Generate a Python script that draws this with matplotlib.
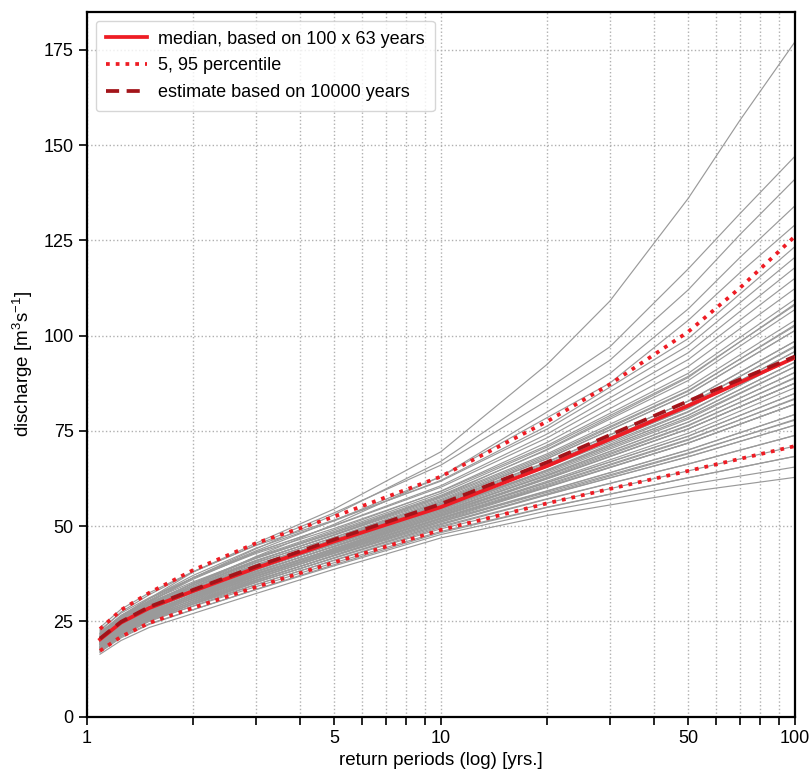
import numpy as np
import matplotlib
matplotlib.use("Agg")
import matplotlib.pyplot as plt
from matplotlib.ticker import FixedLocator, FixedFormatter, NullLocator

plt.rcParams['font.family'] = ['Liberation Sans', 'DejaVu Sans']
plt.rcParams['mathtext.default'] = 'regular'

T = [1.09, 1.25, 1.5, 2, 3, 5, 10, 20, 50, 100]
# finer grid for the steep upper curves
T_fine = [1.09, 1.25, 1.5, 2, 3, 5, 10, 20, 30, 50, 70, 100]

# 5, 95 percentile, median (100 x 63 yrs) and estimate (10000 yrs)
p05 = [17.3, 21.0, 24.6, 28.6, 34.0, 40.5, 49.0, 56.0, 64.5, 71.0]
p95 = [23.0, 28.0, 32.5, 38.5, 45.5, 52.5, 63.0, 77.5, 87.2, 101.0, 112.5, 126.0]
median = [20.3, 24.7, 28.5, 33.0, 39.0, 46.0, 55.0, 65.8, 81.6, 94.2]
estimate = [20.5, 24.9, 28.8, 33.3, 39.4, 46.5, 55.8, 66.8, 82.8, 94.5]

# steepest individual curves (on T_fine)
top_samples = [
    [21.5, 26.0, 31.0, 38.0, 45.5, 54.5, 69.5, 92.5, 109.0, 136.0, 156.5, 177.0],
    [20.0, 25.0, 30.0, 36.5, 44.0, 53.0, 67.0, 86.0, 97.0, 117.5, 132.0, 147.0],
    [22.5, 27.5, 32.0, 38.0, 45.0, 53.5, 66.0, 83.0, 93.5, 112.0, 126.5, 141.0],
    [19.5, 24.0, 28.5, 34.5, 42.0, 50.5, 63.0, 80.0, 90.0, 107.0, 120.5, 134.0],
    [21.0, 26.0, 30.5, 36.5, 43.5, 51.5, 63.0, 78.5, 87.5, 104.0, 116.5, 129.0],
]

# remaining individual curves (on T)
samples = [
    [21.2, 26.4, 31.0, 37.1, 44.2, 51.4, 62.0, 76.3, 99.2, 123.3],
    [23.4, 28.2, 32.5, 38.1, 44.9, 51.6, 61.8, 75.5, 97.4, 120.5],
    [20.6, 25.7, 30.2, 36.1, 43.1, 50.2, 60.6, 74.2, 95.5, 117.8],
    [21.9, 26.6, 30.9, 36.5, 43.2, 50.1, 60.2, 73.2, 93.7, 115.0],
    [20.1, 25.0, 29.4, 35.1, 41.9, 49.0, 59.2, 72.0, 91.9, 112.3],
    [22.8, 27.2, 31.2, 36.4, 42.8, 49.4, 59.1, 71.2, 90.1, 109.5],
    [20.5, 25.2, 29.5, 35.0, 41.7, 48.6, 58.6, 70.8, 89.3, 108.0],
    [21.0, 25.6, 29.7, 35.0, 41.5, 48.3, 58.1, 70.0, 88.2, 106.8],
    [19.5, 24.3, 28.6, 34.1, 40.8, 47.8, 57.8, 70.2, 89.0, 108.3],
    [22.2, 26.5, 30.4, 35.4, 41.6, 48.2, 57.7, 69.0, 86.4, 104.0],
    [20.7, 25.2, 29.3, 34.5, 40.9, 47.7, 57.4, 68.6, 85.6, 102.5],
    [18.9, 23.6, 27.8, 33.1, 39.6, 46.6, 56.4, 67.7, 84.6, 101.3],
    [21.9, 26.2, 30.0, 34.9, 41.0, 47.6, 57.0, 68.2, 85.4, 102.8],
    [20.4, 24.9, 28.9, 34.0, 40.3, 47.1, 56.7, 67.8, 84.6, 101.3],
    [20.2, 24.5, 28.6, 33.6, 39.8, 46.5, 56.0, 66.8, 82.8, 98.5],
    [19.4, 23.8, 28.0, 33.1, 39.4, 46.2, 55.8, 66.4, 82.0, 97.0],
    [21.7, 25.8, 29.7, 34.5, 40.5, 47.0, 56.3, 66.9, 82.8, 98.5],
    [19.9, 24.2, 28.2, 33.1, 39.2, 45.9, 55.3, 65.7, 80.9, 95.8],
    [18.4, 22.9, 27.1, 32.2, 38.5, 45.4, 55.0, 65.6, 80.9, 95.8],
    [20.7, 24.9, 28.8, 33.6, 39.6, 46.2, 55.5, 66.1, 81.7, 97.3],
    [21.4, 25.5, 29.3, 34.0, 39.9, 46.4, 55.6, 65.5, 80.1, 94.3],
    [19.6, 23.8, 27.8, 32.6, 38.6, 45.3, 54.6, 64.6, 79.1, 93.0],
    [18.1, 22.5, 26.7, 31.7, 37.9, 44.8, 54.3, 64.8, 79.9, 94.5],
    [21.1, 25.1, 28.9, 33.5, 39.3, 45.8, 54.9, 64.7, 79.1, 93.0],
    [19.9, 24.1, 28.0, 32.8, 38.7, 45.3, 54.5, 64.3, 78.5, 91.8],
    [19.3, 23.5, 27.4, 32.1, 38.0, 44.7, 53.9, 63.5, 77.3, 90.3],
    [20.8, 24.8, 28.5, 33.0, 38.7, 45.2, 54.2, 63.9, 78.1, 91.8],
    [17.8, 22.2, 26.3, 31.2, 37.3, 44.2, 53.6, 63.4, 77.3, 90.3],
    [19.3, 23.5, 27.4, 32.1, 38.0, 44.7, 53.9, 63.2, 76.5, 88.8],
    [19.0, 23.1, 27.0, 31.6, 37.5, 44.1, 53.2, 62.5, 75.5, 87.5],
    [17.5, 21.8, 25.9, 30.7, 36.8, 43.6, 52.9, 62.4, 75.5, 87.5],
    [20.5, 24.4, 28.1, 32.5, 38.2, 44.6, 53.5, 62.6, 75.5, 87.5],
    [19.0, 23.1, 27.0, 31.6, 37.5, 44.1, 53.2, 62.8, 76.3, 89.0],
    [18.7, 22.8, 26.6, 31.1, 36.9, 43.5, 52.5, 61.4, 73.6, 84.8],
    [20.2, 24.1, 27.7, 32.0, 37.6, 44.0, 52.8, 61.5, 73.6, 84.8],
    [17.2, 21.5, 25.5, 30.2, 36.2, 43.0, 52.2, 61.0, 72.8, 83.3],
    [19.5, 23.5, 27.2, 31.6, 37.3, 43.8, 52.7, 61.8, 74.4, 86.3],
    [18.4, 22.4, 26.2, 30.6, 36.3, 42.9, 51.8, 60.3, 71.8, 82.0],
    [19.9, 23.7, 27.3, 31.5, 37.0, 43.4, 52.1, 60.4, 71.8, 82.0],
    [16.9, 21.1, 25.1, 29.7, 35.6, 42.4, 51.5, 60.2, 71.8, 82.0],
    [19.2, 23.1, 26.8, 31.1, 36.7, 43.2, 52.0, 60.7, 72.6, 83.5],
    [18.2, 22.1, 25.8, 30.1, 35.7, 42.3, 51.1, 59.2, 70.0, 79.3],
    [19.7, 23.4, 26.9, 31.0, 36.4, 42.8, 51.4, 59.3, 70.0, 79.3],
    [18.2, 22.1, 25.8, 30.1, 35.7, 42.3, 51.1, 58.9, 69.2, 77.8],
    [17.9, 21.7, 25.4, 29.6, 35.2, 41.7, 50.4, 58.2, 68.2, 76.5],
    [19.4, 23.0, 26.5, 30.5, 35.9, 42.2, 50.7, 58.3, 68.2, 76.5],
    [17.9, 21.7, 25.4, 29.6, 35.2, 41.7, 50.4, 58.5, 69.0, 78.0],
    [17.6, 21.4, 25.0, 29.1, 34.6, 41.1, 49.7, 57.1, 66.3, 73.8],
    [19.1, 22.7, 26.1, 30.0, 35.3, 41.6, 50.0, 57.2, 66.3, 73.8],
    [18.8, 22.3, 25.7, 29.5, 34.7, 41.0, 49.3, 56.1, 64.5, 71.0],
    [18.5, 22.0, 25.3, 29.0, 34.1, 40.4, 48.6, 55.0, 62.7, 68.3],
    [17.0, 20.7, 24.2, 28.1, 33.4, 39.9, 48.3, 54.9, 62.7, 68.3],
    [17.5, 21.0, 24.4, 28.1, 33.3, 39.6, 47.8, 54.0, 60.9, 65.5],
    [16.4, 20.0, 23.4, 27.1, 32.3, 38.7, 46.9, 52.8, 59.0, 62.8],
]

x_ticks = [1, 2, 3, 4, 5, 6, 7, 8, 9, 10, 20, 30, 40, 50, 60, 70, 80, 90, 100]
x_labels = ['1', '', '', '', '5', '', '', '', '', '10', '', '', '', '50', '', '', '', '', '100']
y_ticks = [0, 25, 50, 75, 100, 125, 150, 175]

fig = plt.figure(figsize=(8.11, 7.74), dpi=100)
ax = fig.add_axes([0.107, 0.074, 0.873, 0.911])

for s in top_samples:
    ax.plot(T_fine, s, color='#9a9a9a', lw=0.85, zorder=2)
for s in samples:
    ax.plot(T, s, color='#9a9a9a', lw=0.85, zorder=2)

ax.plot(T, median, color='#ee1c24', lw=2.7, zorder=4,
        label='median, based on 100 x 63 years')
ax.plot(T, p05, color='#ee1c24', lw=2.7, ls=(0, (1, 1.6)), zorder=5,
        label='5, 95 percentile')
ax.plot(T_fine, p95, color='#ee1c24', lw=2.7, ls=(0, (1, 1.6)), zorder=5)
ax.plot(T, estimate, color='#a3141a', lw=2.7, ls=(0, (3.5, 2)), zorder=5,
        label='estimate based on 10000 years')

ax.set_xscale('log')
ax.set_xlim(1, 100)
ax.set_ylim(0, 185)
ax.xaxis.set_major_locator(FixedLocator(x_ticks))
ax.xaxis.set_major_formatter(FixedFormatter(x_labels))
ax.xaxis.set_minor_locator(NullLocator())
ax.set_yticks(y_ticks)

ax.grid(True, color='#b0b0b0', ls=':', lw=1.0, zorder=0)
ax.tick_params(direction='out', length=6, width=1.2, labelsize=13, colors='black')
for sp in ax.spines.values():
    sp.set_linewidth(1.6)

ax.set_xlabel('return periods (log) [yrs.]', fontsize=13.5, labelpad=4)
ax.set_ylabel('discharge [m$^3$s$^{-1}$]', fontsize=13.5, labelpad=6)

leg = ax.legend(loc='upper left', fontsize=13, frameon=True, fancybox=True,
                edgecolor='#cccccc', handlelength=2.3, handletextpad=0.6,
                borderpad=0.55, labelspacing=0.55, bbox_to_anchor=(0.0, 1.0))
leg.get_frame().set_linewidth(1.0)

fig.savefig('out.png', dpi=100)
